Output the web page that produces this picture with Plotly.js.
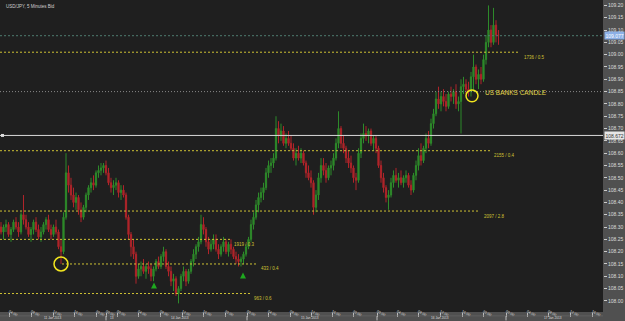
<!DOCTYPE html>
<html><head><meta charset="utf-8">
<script src="https://cdn.plot.ly/plotly-3.0.1.min.js"></script>
<style>html,body{margin:0;padding:0;background:#4e4e4e;}#chart{width:625px;height:321px;}</style>
</head><body><div id="chart"></div>
<script>
// USD/JPY candles
const openP = [
108.30,108.28,108.30,108.31,108.27,108.29,108.32,108.30,108.28,108.35,
108.33,108.30,108.27,108.29,108.32,108.29,108.26,108.28,108.31,108.33,
108.29,108.27,108.30,108.28,108.22,108.20,108.34,108.52,108.47,108.43,
108.40,108.42,108.37,108.34,108.38,108.43,108.46,108.48,108.47,108.52,
108.53,108.54,108.55,108.52,108.48,108.46,108.47,108.48,108.44,108.45,
108.43,108.34,108.27,108.22,108.19,108.10,108.13,108.14,108.12,108.14,
108.13,108.10,108.13,108.16,108.14,108.18,108.20,108.14,108.12,108.08,
108.09,108.03,108.05,108.10,108.12,108.08,108.12,108.16,108.19,108.22,
108.24,108.31,108.29,108.24,108.21,108.23,108.25,108.21,108.19,108.22,
108.24,108.20,108.23,108.21,108.18,108.17,108.16,108.17,108.19,108.22,
108.25,108.31,108.34,108.39,108.42,108.44,108.46,108.52,108.55,108.56,
108.58,108.70,108.67,108.69,108.64,108.66,108.64,108.62,108.58,108.60,
108.58,108.60,108.56,108.52,108.50,108.48,108.38,108.43,108.50,108.55,
108.53,108.50,108.54,108.55,108.58,108.64,108.70,108.64,108.62,108.58,
108.56,108.54,108.50,108.49,108.60,108.66,108.68,108.67,108.69,108.64,
108.66,108.62,108.55,108.50,108.46,108.42,108.43,108.48,108.51,108.49,
108.50,108.48,108.50,108.51,108.47,108.45,108.51,108.55,108.59,108.57,
108.62,108.66,108.64,108.72,108.76,108.82,108.80,108.83,108.81,108.79,
108.84,108.83,108.85,108.80,108.81,108.87,108.88,108.86,108.85,108.91,
108.95,108.90,108.92,108.90,108.98,109.05,109.10,109.05,109.12,109.08];
const highP = [
108.32,108.31,108.33,108.32,108.30,108.33,108.34,108.32,108.36,108.43,
108.35,108.32,108.30,108.33,108.34,108.31,108.30,108.32,108.34,108.35,
108.31,108.31,108.33,108.29,108.25,108.36,108.60,108.55,108.50,108.46,
108.44,108.43,108.40,108.39,108.44,108.47,108.50,108.51,108.53,108.55,
108.56,108.56,108.57,108.54,108.50,108.49,108.50,108.49,108.47,108.47,
108.44,108.35,108.28,108.25,108.20,108.15,108.16,108.17,108.15,108.16,
108.15,108.14,108.17,108.18,108.19,108.22,108.21,108.16,108.14,108.11,
108.10,108.06,108.11,108.14,108.13,108.13,108.17,108.21,108.23,108.26,
108.35,108.34,108.30,108.26,108.25,108.27,108.27,108.23,108.23,108.26,
108.25,108.24,108.25,108.22,108.20,108.19,108.18,108.20,108.23,108.26,
108.33,108.36,108.41,108.44,108.46,108.48,108.54,108.57,108.58,108.60,
108.75,108.73,108.72,108.71,108.68,108.69,108.67,108.64,108.62,108.63,
108.62,108.61,108.57,108.55,108.53,108.49,108.45,108.52,108.58,108.58,
108.56,108.55,108.57,108.60,108.66,108.77,108.71,108.67,108.63,108.61,
108.59,108.55,108.52,108.62,108.68,108.72,108.71,108.70,108.70,108.67,
108.67,108.63,108.57,108.52,108.47,108.45,108.50,108.53,108.54,108.52,
108.53,108.51,108.53,108.52,108.49,108.52,108.57,108.62,108.64,108.63,
108.68,108.69,108.74,108.78,108.85,108.87,108.85,108.86,108.84,108.85,
108.87,108.86,108.88,108.83,108.90,108.91,108.90,108.89,108.93,109.00,
108.96,108.94,108.95,109.00,109.08,109.20,109.12,109.19,109.14,109.10];
const lowP = [
108.27,108.25,108.28,108.26,108.24,108.28,108.29,108.26,108.27,108.31,
108.29,108.26,108.24,108.27,108.28,108.25,108.24,108.27,108.29,108.28,
108.25,108.26,108.27,108.21,108.15,108.19,108.33,108.44,108.41,108.38,
108.37,108.35,108.32,108.33,108.36,108.41,108.44,108.45,108.46,108.50,
108.51,108.52,108.51,108.47,108.44,108.43,108.45,108.42,108.41,108.42,
108.33,108.25,108.18,108.17,108.07,108.09,108.10,108.11,108.09,108.11,
108.08,108.08,108.12,108.13,108.13,108.16,108.13,108.10,108.06,108.04,
108.02,107.99,108.04,108.08,108.06,108.07,108.11,108.14,108.17,108.20,
108.23,108.27,108.22,108.19,108.20,108.21,108.20,108.17,108.18,108.20,
108.19,108.18,108.19,108.17,108.15,108.14,108.14,108.15,108.18,108.21,
108.24,108.29,108.33,108.36,108.40,108.41,108.45,108.50,108.52,108.54,
108.57,108.64,108.65,108.63,108.62,108.63,108.61,108.57,108.55,108.57,
108.56,108.55,108.50,108.49,108.46,108.35,108.36,108.41,108.48,108.51,
108.48,108.49,108.51,108.53,108.57,108.62,108.62,108.60,108.56,108.54,
108.52,108.48,108.45,108.48,108.58,108.64,108.65,108.64,108.63,108.61,
108.60,108.54,108.48,108.44,108.40,108.37,108.42,108.46,108.48,108.46,
108.47,108.46,108.48,108.46,108.43,108.44,108.49,108.53,108.55,108.56,
108.60,108.62,108.63,108.70,108.75,108.78,108.77,108.79,108.77,108.78,
108.81,108.80,108.78,108.77,108.68,108.84,108.84,108.83,108.83,108.85,
108.88,108.86,108.88,108.89,108.96,109.03,109.03,109.04,109.05,109.04];
const closeP = [
108.28,108.30,108.31,108.27,108.29,108.32,108.30,108.28,108.35,108.33,
108.30,108.27,108.29,108.32,108.29,108.26,108.28,108.31,108.33,108.29,
108.27,108.30,108.28,108.22,108.20,108.34,108.52,108.47,108.43,108.40,
108.42,108.37,108.34,108.38,108.43,108.46,108.48,108.47,108.52,108.53,
108.54,108.55,108.52,108.48,108.46,108.47,108.48,108.44,108.45,108.43,
108.34,108.27,108.22,108.19,108.10,108.13,108.14,108.12,108.14,108.13,
108.10,108.13,108.16,108.14,108.18,108.20,108.14,108.12,108.08,108.09,
108.03,108.05,108.10,108.12,108.08,108.12,108.16,108.19,108.22,108.24,
108.31,108.29,108.24,108.21,108.23,108.25,108.21,108.19,108.22,108.24,
108.20,108.23,108.21,108.18,108.17,108.16,108.17,108.19,108.22,108.25,
108.31,108.34,108.39,108.42,108.44,108.46,108.52,108.55,108.56,108.58,
108.70,108.67,108.69,108.64,108.66,108.64,108.62,108.58,108.60,108.58,
108.60,108.56,108.52,108.50,108.48,108.38,108.43,108.50,108.55,108.53,
108.50,108.54,108.55,108.58,108.64,108.70,108.64,108.62,108.58,108.56,
108.54,108.50,108.49,108.60,108.66,108.68,108.67,108.69,108.64,108.66,
108.62,108.55,108.50,108.46,108.42,108.43,108.48,108.51,108.49,108.50,
108.48,108.50,108.51,108.47,108.45,108.51,108.55,108.59,108.57,108.62,
108.66,108.64,108.72,108.76,108.82,108.80,108.83,108.81,108.79,108.84,
108.83,108.85,108.80,108.81,108.87,108.88,108.86,108.85,108.91,108.95,
108.90,108.92,108.90,108.98,109.05,109.10,109.05,109.12,109.08,109.08];

// time axis labels (candle index where each label starts)
const timeTickIdx = [3.2,12.0,20.8,29.2,38.0,42.0,46.4,54.8,63.6,72.4,80.8,89.6,98.4,106.8,115.6,124.0,132.4,140.8,150.4,158.4,166.8,175.6,184.4,192.8,202.0,210.4,218.8,227.6,236.4];
const timeTickText = ["04:00","08:00","12:00","16:00","20:00","00:00","00:00","04:00","08:00","12:00","16:00","20:00","00:00","04:00","08:00","12:00","16:00","20:00","00:00","04:00","08:00","12:00","16:00","20:00","00:00","04:00","08:00","12:00","16:00"];
const dateLabels = ["11 Jan 2013","13","14 Jan 2013","15 Jan 2013","16 Jan 2013","17 Jan 2013"];
const dateIdx = [20.8,44.4,71.6,123.6,175.6,220.8];
const daySepIdx = [42.0,98.4,150.4,202.0];

// horizontal levels
const levelPrice = [109.01,108.61,108.365,108.25,108.15,108.03];
const levelLabel = ["1736 / 0.5","2155 / 0.4","2097 / 2.8","1919 / 0.3","433 / 0.4","963 / 0.6"];
const currentPrice = 109.077;
const whiteLevel = 108.672;
const banksLevel = 108.85;
const signalIdx = [61.2, 96.8];
const signalPrice = [108.075, 108.115];

// layout positions (not data)
const levelStart = [-0.4,-0.4,-0.4,-0.4,24.4,-0.4];
const levelEnd = [207.6,195.6,191.6,91.6,102.4,99.6];

const idx = openP.map((_, i) => i);
const YEL = '#cfc234';
const FONT = 'Liberation Sans, Arial, sans-serif';

const shapes = [];
const annotations = [];
shapes.push({type:'line',xref:'paper',x0:0,x1:1,yref:'y',y0:currentPrice,y1:currentPrice,line:{color:'#4e7d70',width:1,dash:'2px,2px'}});
shapes.push({type:'line',xref:'paper',x0:0,x1:1,yref:'y',y0:banksLevel,y1:banksLevel,line:{color:'#8a8a8a',width:1,dash:'1px,2px'}});
shapes.push({type:'line',xref:'paper',x0:0,x1:1,yref:'y',y0:whiteLevel,y1:whiteLevel,line:{color:'#d8d8d8',width:1}});
shapes.push({type:'rect',xref:'x',x0:0.0,x1:1.2,yref:'y',y0:whiteLevel-0.006,y1:whiteLevel+0.006,line:{width:0},fillcolor:'#dddddd'});
levelPrice.forEach((p,k)=>{
  shapes.push({type:'line',xref:'x',x0:levelStart[k],x1:levelEnd[k],yref:'y',y0:p,y1:p,line:{color:YEL,width:1,dash:'2px,2px'}});
  annotations.push({xref:'x',yref:'y',x:levelEnd[k]+0.8,y:p,xanchor:'left',yanchor:'middle',yshift:-5,text:levelLabel[k],showarrow:false,font:{family:FONT,size:4.5,color:YEL}});
});
// circles
shapes.push({type:'circle',xref:'x',yref:'y',x0:21.2,x1:26.8,y0:108.122,y1:108.178,line:{color:'#f2e51e',width:1.5}});
shapes.push({type:'circle',xref:'x',yref:'y',x0:186.0,x1:190.8,y0:108.809,y1:108.857,line:{color:'#f2e51e',width:1.5}});
// bottom bar row divider and day separators
shapes.push({type:'line',xref:'paper',x0:0,x1:1,yref:'paper',y0:-0.0125,y1:-0.0125,line:{color:'#6a6a6a',width:0.6}});
daySepIdx.forEach(d=>{
  shapes.push({type:'line',xref:'x',x0:d,x1:d,yref:'paper',y0:-0.013,y1:-0.027,line:{color:'#bbbbbb',width:1}});
});
dateIdx.forEach((d,k)=>{
  annotations.push({xref:'x',yref:'paper',x:d,y:0,yanchor:'top',yshift:-3.4,text:dateLabels[k],showarrow:false,borderpad:0,font:{family:FONT,size:3.2,color:'#dddddd'}});
});
annotations.push({xref:'x',yref:'y',x:192.8,y:108.845,xanchor:'left',yanchor:'middle',text:'US BANKS CANDLE',showarrow:false,font:{family:FONT,size:6.5,color:'#e3d64a'}});
annotations.push({xref:'paper',yref:'paper',x:0.006,y:1,xanchor:'left',yanchor:'top',yshift:-2,text:'USD/JPY, 5 Minutes Bid',showarrow:false,font:{family:FONT,size:4.5,color:'#d0d0d0'}});
annotations.push({xref:'paper',yref:'y',x:1,y:currentPrice,xanchor:'left',yanchor:'middle',xshift:1,text:'109.077',showarrow:false,bgcolor:'#8cb0e6',borderpad:0.5,font:{family:FONT,size:5,color:'#ffffff'}});
annotations.push({xref:'paper',yref:'y',x:1,y:whiteLevel,xanchor:'left',yanchor:'middle',xshift:1,text:'108.672',showarrow:false,bgcolor:'#e6e6e6',borderpad:0.5,font:{family:FONT,size:5,color:'#333333'}});

const data = [
  {type:'candlestick', x: idx, open: openP, high: highP, low: lowP, close: closeP,
   increasing:{line:{color:'#2d8a2a',width:1},fillcolor:'#2d8a2a'},
   decreasing:{line:{color:'#b0242a',width:1},fillcolor:'#b0242a'},
   whiskerwidth:0, hoverinfo:'skip', showlegend:false},
  {type:'scatter', mode:'markers', x: signalIdx, y: signalPrice,
   marker:{symbol:'arrow-up',size:6,color:'#1fa81f',line:{width:0}}, hoverinfo:'skip', showlegend:false}
];

const layout = {
  width:625, height:321,
  margin:{l:0,r:22,t:0,b:9,pad:0},
  paper_bgcolor:'#505050', plot_bgcolor:'#1f1f1f',
  showlegend:false,
  xaxis:{range:[-0.4,240.8], rangeslider:{visible:false}, showgrid:false, zeroline:false, showline:false,
    tickmode:'array', tickvals:timeTickIdx, ticktext:timeTickText, ticks:'outside', ticklen:4, tickcolor:'#bbbbbb', tickwidth:1,
    ticklabelposition:'outside right', ticklabelstandoff:-5,
    tickfont:{family:FONT,size:3.6,color:'#dddddd'}, fixedrange:true},
  yaxis:{range:[107.955,109.222], side:'right', showgrid:false, zeroline:false, showline:false,
    tick0:108, dtick:0.05, tickformat:'.2f', ticks:'outside', ticklen:3, tickcolor:'#cccccc',
    tickfont:{family:FONT,size:5,color:'#dddddd'}, fixedrange:true},
  shapes: shapes, annotations: annotations
};
Plotly.newPlot('chart', data, layout, {displayModeBar:false, staticPlot:true});
</script></body></html>
